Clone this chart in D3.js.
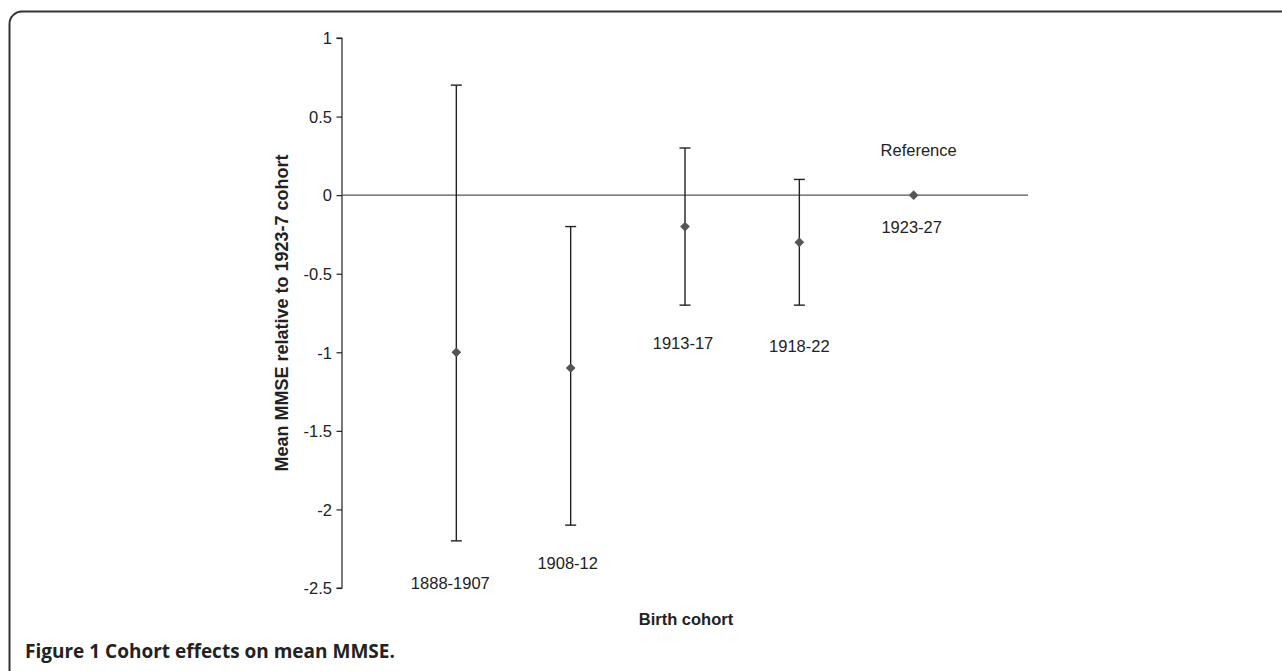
<!DOCTYPE html>
<html>
<head>
<meta charset="utf-8">
<script src="https://cdn.jsdelivr.net/npm/d3@7"></script>
<style>
  body { margin: 0; background: #fff; }
  svg { display: block; }
  .tick-label, .cat-label { font-family: "Liberation Sans", Arial, sans-serif; font-size: 16.5px; fill: #222; }
  .axis-title { font-family: "Liberation Sans", Arial, sans-serif; font-size: 16.5px; font-weight: bold; fill: #222; }
  .caption { font-family: "Open Sans", sans-serif; font-size: 19px; font-weight: bold; fill: #222; }
</style>
</head>
<body>
<svg id="chart" width="1282" height="671"></svg>
<script>
// data
var cohorts = ["1888-1907", "1908-12", "1913-17", "1918-22", "1923-27"];
var means = [-1.0, -1.1, -0.2, -0.3, 0.0];
var lower = [-2.2, -2.1, -0.7, -0.7, null];
var upper = [0.7, -0.2, 0.3, 0.1, null];
var y_ticks = [1, 0.5, 0, -0.5, -1, -1.5, -2, -2.5];

var svg = d3.select("#chart");

// frame round the figure (open at right and bottom)
svg.append("path")
    .attr("d", "M9.5,671 V24 A12.5,12.5 0 0 1 22,11.5 H1282")
    .attr("style", "fill:none; stroke:#333; stroke-width:2");

// scales
var x = d3.scalePoint().domain(cohorts).range([342, 1028]).padding(1);
var y = d3.scaleLinear().domain([-2.5, 1]).range([588, 38]);

// y axis
var g_axis = svg.append("g").attr("transform", "translate(342,0)");
g_axis.call(d3.axisLeft(y).tickValues(y_ticks).tickSize(5.5));
g_axis.select(".domain").attr("stroke", "#222").attr("stroke-width", 1.2).attr("d", "M-5.5," + y(1) + "H0V" + y(-2.5) + "H-5.5");
g_axis.selectAll(".tick line").attr("stroke", "#222").attr("stroke-width", 1.2);
g_axis.selectAll(".tick text").attr("class", "tick-label").attr("x", -10).attr("dy", "0.35em")
    .text(d => (d < 0 ? "-" : "") + Math.abs(d));
g_axis.attr("font-size", null).attr("font-family", null);

// zero line
svg.append("line")
    .attr("x1", 342).attr("x2", 1028).attr("y1", y(0)).attr("y2", y(0))
    .attr("style", "stroke:#555; stroke-width:1.4");

// error bars
var rows = cohorts.map((c, i) => ({ c: c, m: means[i], lo: lower[i], hi: upper[i] }));
var bars = rows.filter(d => d.lo !== null);
svg.selectAll(".whisker").data(bars).join("line").classed("whisker", true)
    .attr("x1", d => x(d.c)).attr("x2", d => x(d.c))
    .attr("y1", d => y(d.hi)).attr("y2", d => y(d.lo))
    .attr("style", "stroke:#222; stroke-width:1.4");
var caps = [];
bars.forEach(d => { caps.push({ c: d.c, v: d.hi }); caps.push({ c: d.c, v: d.lo }); });
svg.selectAll(".cap").data(caps).join("line").classed("cap", true)
    .attr("x1", d => x(d.c) - 5.5).attr("x2", d => x(d.c) + 5.5)
    .attr("y1", d => y(d.v)).attr("y2", d => y(d.v))
    .attr("style", "stroke:#222; stroke-width:1.4");

// diamonds
svg.selectAll(".pt").data(rows).join("path").classed("pt", true)
    .attr("d", d3.symbol().type(d3.symbolDiamond2).size(60))
    .attr("transform", d => "translate(" + x(d.c) + "," + y(d.m) + ")")
    .attr("style", "fill:#555");

// cohort labels, below the lower end of each bar
var label_gap = [42, 38, 38, 41, 32];
var label_dx = [-6, -3, -2, 0, -2];
svg.selectAll(".cat-label").data(rows).join("text").attr("class", "cat-label")
    .attr("x", (d, i) => x(d.c) + label_dx[i])
    .attr("y", (d, i) => y(d.lo === null ? d.m : d.lo) + label_gap[i])
    .attr("dy", "0.35em").attr("text-anchor", "middle")
    .text(d => d.c);
svg.append("text").attr("class", "cat-label")
    .attr("x", x("1923-27") + 5).attr("y", y(0) - 45).attr("dy", "0.35em")
    .attr("text-anchor", "middle").text("Reference");

// axis titles
svg.append("text").attr("class", "axis-title").style("font-size", "18px")
    .attr("transform", "translate(282," + (y(1) + y(-2.5)) / 2 + ") rotate(-90)")
    .attr("text-anchor", "middle").attr("dy", "0.35em")
    .text("Mean MMSE relative to 1923-7 cohort");
svg.append("text").attr("class", "axis-title")
    .attr("x", 686).attr("y", 619).attr("dy", "0.35em").attr("text-anchor", "middle")
    .text("Birth cohort");

// caption
svg.append("text").attr("class", "caption").attr("x", 25).attr("y", 658)
    .text("Figure 1 Cohort effects on mean MMSE.");
</script>
</body>
</html>
